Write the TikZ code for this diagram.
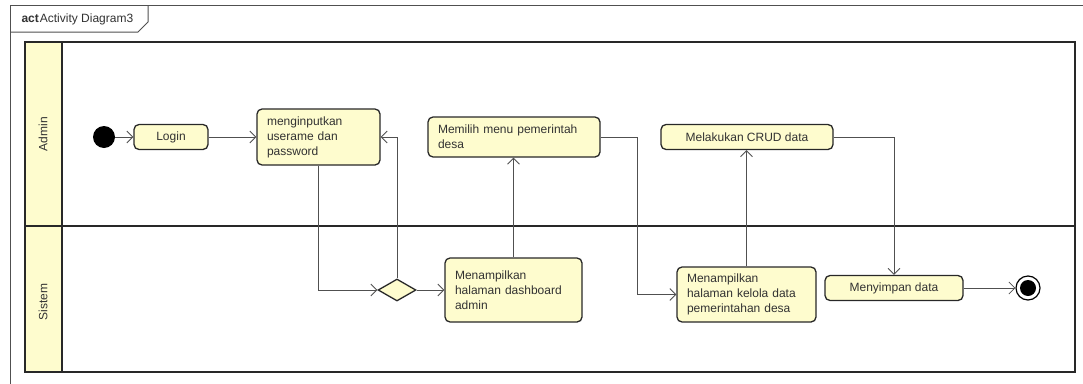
\documentclass[tikz,border=0pt]{standalone}
\usepackage{fontspec}
\setmainfont{Liberation Sans}
\usetikzlibrary{arrows.meta, shapes.geometric}
\definecolor{actfill}{RGB}{254,252,206}
\definecolor{boxline}{RGB}{40,40,40}
\definecolor{flowline}{RGB}{80,80,80}
\definecolor{txt}{RGB}{50,50,50}

\begin{document}
\begin{tikzpicture}[x=1pt, y=-1pt,
    >={Straight Barb[length=6pt,width=12pt]},
    every node/.style={font=\fontsize{12}{15}\selectfont, text=txt},
    act/.style={draw=boxline, fill=actfill, rounded corners=5pt, line width=1.3pt,
        inner xsep=10pt, inner ysep=0pt},
    actleft/.style={act, align=left},
    actmid/.style={act, align=center},
    decision/.style={diamond, draw=boxline, fill=actfill, line width=1.3pt, inner sep=0pt,
        minimum width=38pt, minimum height=22pt},
    flow/.style={->, draw=flowline, line width=0.8pt},
    lane/.style={draw=boxline, line width=1.5pt}]
            \clip (0,0) rectangle (1083,383);
            \fill[white] (0,0) rectangle (1083,383);
            \draw[flowline, line width=1pt] (10,395) -- (10,5) -- (1095,5);
            \draw[flowline, line width=1pt] (10,32) -- (138,32) -- (148,22) -- (148,5);
            \node[anchor=base west] at (18,22) {\textbf{act}\hspace{1pt}Activity Diagram3};
            \fill[actfill] (25,42) rectangle (62,372);
            \draw[lane] (25,42) rectangle (1075,372);
            \draw[lane] (62,42) -- (62,372);
            \draw[lane] (25,226) -- (1075,226);
            \node[rotate=90] (admin) at (43,134) {Admin};
            \node[rotate=90] (sistem) at (43,302) {Sistem};
            \node[circle, fill=black, minimum size=22pt, inner sep=0pt] (start) at (104,137) {};
            \node[actmid, minimum width=74pt, minimum height=25pt] (login) at (171,137) {Login};
            \node[actleft, text width=103pt, minimum height=56pt] (input) at (318.5,137)
                {menginputkan\\userame dan\\password};
            \node[decision] (dec) at (397,290) {};
            \node[actleft, text width=117pt, minimum height=64pt] (dash) at (513.5,290)
                {Menampilkan\\halaman dashboard\\admin};
            \node[actleft, text width=152pt, minimum height=40pt] (memilih) at (514,137)
                {Memilih menu pemerintah\\desa};
            \node[actleft, text width=119pt, minimum height=55pt] (kelola) at (746.5,294.5)
                {Menampilkan\\halaman kelola data\\pemerintahan desa};
            \node[actmid, minimum width=172pt, minimum height=25pt] (crud) at (747,137)
                {Melakukan CRUD data};
            \node[actmid, minimum width=138pt, minimum height=25pt] (simpan) at (894,288)
                {Menyimpan data};
            \node[circle, draw=black, fill=white, line width=1.2pt, minimum size=24pt,
                inner sep=0pt] (end) at (1028,288) {};
            \fill[black] (end.center) circle (8pt);
            \draw[flow] (start) -- (login);
            \draw[flow] (login) -- (input);
            \draw[flow] (input.south) |- (dec.west);
            \draw[flow] (dec.north) |- (input.east);
            \draw[flow] (dec) -- (dash);
            \draw[flow] (dash.north) -- (dash.north |- memilih.south);
            \draw[flow] (memilih.east) -- ++(37,0) |- (kelola.west);
            \draw[flow] (kelola.north) -- (kelola.north |- crud.south);
            \draw[flow] (crud.east) -| (simpan.north);
            \draw[flow] (simpan) -- (end);
        \end{tikzpicture}
\end{document}
